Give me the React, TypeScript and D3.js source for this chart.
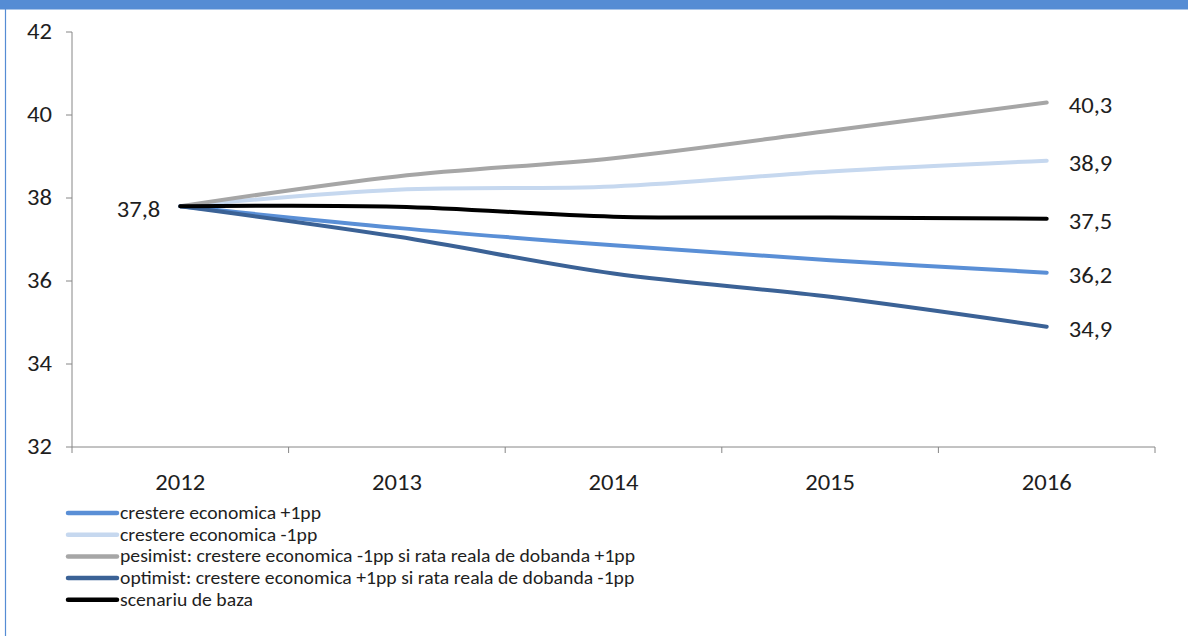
import React from "react";
import * as d3 from "d3";

const years = ["2012", "2013", "2014", "2015", "2016"];
const yTicks = [32, 34, 36, 38, 40, 42];

const plus1 = [37.8, 37.28, 36.86, 36.5, 36.2];
const minus1 = [37.8, 38.2, 38.28, 38.64, 38.9];
const pesimist = [37.8, 38.52, 38.96, 39.62, 40.3];
const optimist = [37.8, 37.07, 36.18, 35.62, 34.9];
const baza = [37.8, 37.79, 37.55, 37.53, 37.5];

const seriesNames = [
  "crestere economica +1pp",
  "crestere economica -1pp",
  "pesimist: crestere economica -1pp si rata reala de dobanda +1pp",
  "optimist: crestere economica +1pp si rata reala de dobanda -1pp",
  "scenariu de baza",
];
const seriesValues = [plus1, minus1, pesimist, optimist, baza];
const seriesColors = ["#5A8FD6", "#C6D8EF", "#A6A6A6", "#3B6296", "#000000"];

const W = 1188;
const H = 636;
const FONT = "Carlito, Calibri, 'Liberation Sans Narrow', 'DejaVu Sans Condensed', sans-serif";

function SText(props: {
  x: number;
  y: number;
  size: number;
  sx: number;
  anchor?: "start" | "middle" | "end";
  dy?: string;
  children: React.ReactNode;
}) {
  const { x, y, size, sx, anchor = "start", dy, children } = props;
  return (
    <text
      transform={`translate(${x},${y}) scale(${sx},1)`}
      textAnchor={anchor}
      dy={dy}
      fontSize={size}
      fill="#1e1e1e"
    >
      {children}
    </text>
  );
}

export default function App() {
  const x = d3.scaleBand<string>().domain(years).range([72, 1155]).paddingInner(0).paddingOuter(0);
  const y = d3.scaleLinear().domain([32, 42]).range([447, 32]);
  const cx = (yr: string) => (x(yr) as number) + x.bandwidth() / 2;
  const line = d3
    .line<number>()
    .x((_, i) => cx(years[i]))
    .y((v) => y(v))
    .curve(d3.curveCatmullRom.alpha(0.5));
  const fmt = (v: number) => v.toFixed(1).replace(".", ",");
  const bandEdges = years.map((yr) => x(yr) as number).concat([x.range()[1]]);
  const axisColor = "#868686";
  const SX = 1.12;

  return (
    <svg
      width={W}
      height={H}
      style={{ position: "absolute", left: 0, top: 0, background: "#fff" }}
      fontFamily={FONT}
    >
      <rect x={0} y={0} width={W} height={H} fill="#fff" />
      <rect x={0} y={0} width={W} height={9.5} fill="#558CD4" />
      <line x1={5.5} x2={5.5} y1={9} y2={H} stroke="#558CD4" strokeWidth={1.2} />

      {/* y axis */}
      <line x1={72} x2={72} y1={y(42)} y2={y(32)} stroke={axisColor} strokeWidth={1} />
      {yTicks.map((t) => (
        <g key={t}>
          <line x1={66} x2={72} y1={y(t)} y2={y(t)} stroke={axisColor} />
          <SText x={52} y={y(t)} dy="0.32em" anchor="end" size={22} sx={SX}>
            {t}
          </SText>
        </g>
      ))}

      {/* x axis */}
      <line x1={72} x2={1155} y1={y(32)} y2={y(32)} stroke={axisColor} />
      {bandEdges.map((e, i) => (
        <line key={i} x1={e} x2={e} y1={y(32)} y2={y(32) + 6} stroke={axisColor} />
      ))}
      {years.map((yr) => (
        <SText key={yr} x={cx(yr)} y={y(32) + 43} anchor="middle" size={22} sx={SX}>
          {yr}
        </SText>
      ))}

      {/* lines */}
      {seriesValues.map((vals, i) => (
        <path
          key={i}
          d={line(vals) as string}
          fill="none"
          stroke={seriesColors[i]}
          strokeWidth={4}
          strokeLinecap="round"
          strokeLinejoin="round"
        />
      ))}

      {/* data labels */}
      <SText x={cx(years[0]) - 20} y={y(baza[0])} dy="0.47em" anchor="end" size={22} sx={SX}>
        {fmt(baza[0])}
      </SText>
      {seriesValues.map((vals, i) => (
        <SText key={i} x={cx(years[4]) + 22} y={y(vals[4])} dy="0.47em" anchor="start" size={22} sx={SX}>
          {fmt(vals[4])}
        </SText>
      ))}

      {/* legend */}
      {seriesNames.map((name, i) => {
        const ly = 513 + i * 21.7;
        return (
          <g key={name}>
            <line x1={68} x2={117} y1={ly} y2={ly} stroke={seriesColors[i]} strokeWidth={4.5} strokeLinecap="round" />
            <SText x={120} y={ly} dy="0.33em" size={18} sx={1.094}>
              {name}
            </SText>
          </g>
        );
      })}
    </svg>
  );
}
